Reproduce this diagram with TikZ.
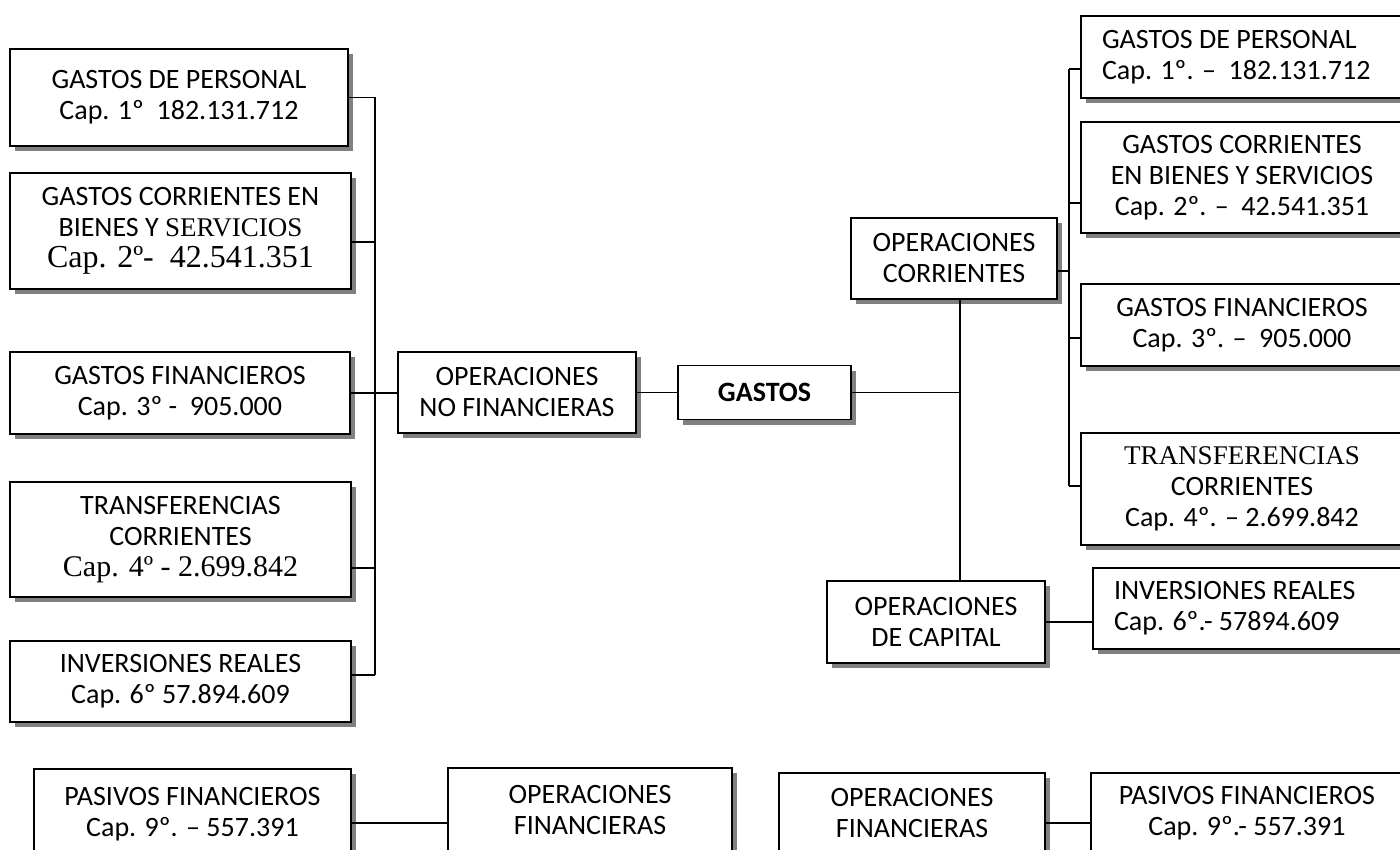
\documentclass[tikz,border=0pt]{standalone}
\usepackage{fontspec}
\setmainfont{Carlito}
\newfontfamily\tms{Liberation Serif}
\usetikzlibrary{shadows}

\begin{document}
\begin{tikzpicture}[x=1pt, y=-1pt,
    box/.style={draw, line width=1.8pt, fill=white, inner sep=0pt, align=center,
      font=\fontsize{28}{31}\selectfont,
      drop shadow={shadow xshift=5pt, shadow yshift=-5pt, fill=black!50, opacity=1}},
    sz/.style 2 args={minimum width=#1pt, minimum height=#2pt},
    lbox/.style={text width=#1pt, inner xsep=21pt, align=flush left},
    wire/.style={line width=1.3pt}]
    \useasboundingbox (0,0) rectangle (1400,850);
    \clip (0,0) rectangle (1400,850);

    % 左の箱
    \node[box, sz={338}{97}] (gp1) at (179,97.5) {GASTOS DE PERSONAL\\Cap. 1º\ \ 182.131.712};
    \node[box, sz={341}{116}] (gc1) at (180.5,231) {GASTOS CORRIENTES EN\\BIENES Y {\tms\fontsize{27}{31}\selectfont SERVICIOS}\\{\tms\fontsize{32}{35}\selectfont Cap. 2º-\ \ 42.541.351}};
    \node[box, sz={340}{82}] (gf1) at (180,393) {GASTOS FINANCIEROS\\Cap. 3º -\ \ 905.000};
    \node[box, sz={341}{115}] (tc1) at (180.5,539.5) {TRANSFERENCIAS\\CORRIENTES\\{\tms\fontsize{30}{33}\selectfont Cap. 4º - 2.699.842}};
    \node[box, sz={341}{81}] (ir1) at (180.5,681.5) {INVERSIONES REALES\\Cap. 6º 57.894.609};

    % 中央の箱
    \node[box, sz={238}{81}] (onf) at (517,392.5) {OPERACIONES\\NO FINANCIERAS};
    \node[box, sz={173}{54}, font=\fontsize{28}{31}\selectfont\bfseries] (gas) at (764.5,392.5) {GASTOS};
    \node[box, sz={206}{81}] (oc) at (954,258.5) {OPERACIONES\\CORRIENTES};
    \node[box, sz={218}{82}] (ocap) at (936,622) {OPERACIONES\\DE CAPITAL};

    % 右の箱
    \node[box, lbox=300, minimum height=82pt] (gp2) at (1252,57) {GASTOS DE PERSONAL\\Cap. 1º. –\ \ 182.131.712};
    \node[box, sz={322}{111}] (gc2) at (1242,177.5) {GASTOS CORRIENTES\\EN BIENES Y SERVICIOS\\Cap. 2º. –\ \ 42.541.351};
    \node[box, sz={322}{82}] (gf2) at (1242,325) {GASTOS FINANCIEROS\\Cap. 3º. –\ \ 905.000};
    \node[box, sz={322}{112}] (tc2) at (1242,489) {{\tms\fontsize{27}{31}\selectfont TRANSFERENCIAS}\\CORRIENTES\\Cap. 4º. – 2.699.842};
    \node[box, lbox=300, minimum height=81pt] (ir2) at (1264,608.5) {INVERSIONES REALES\\Cap. 6º.- 57894.609};

    % 下の箱
    \node[box, sz={317}{90}] (pf1) at (192.5,814) {PASIVOS FINANCIEROS\\Cap. 9º. – 557.391};
    \node[box, sz={284}{84}] (of1) at (590,810) {OPERACIONES\\FINANCIERAS};
    \node[box, sz={266}{80}] (of2) at (912,813) {OPERACIONES\\FINANCIERAS};
    \node[box, sz={312}{80}] (pf2) at (1247,813) {PASIVOS FINANCIEROS\\Cap. 9º.- 557.391};

    % 線を引く
    \coordinate (l1) at (375,97);
    \coordinate (l2) at (375,242);
    \coordinate (l4) at (375,568);
    \coordinate (l5) at (375,675);
    \draw[wire] (l1) -- (l5);
    \draw[wire] (gp1.east) -- (gp1.east -| l1);
    \draw[wire] (l2) -- (l2 -| gc1.east);
    \draw[wire] (gf1.east) -- (gf1.east -| onf.west);
    \draw[wire] (l4) -- (l4 -| tc1.east);
    \draw[wire] (l5) -- (l5 -| ir1.east);
    \draw[wire] (onf.east) -- (gas.west);

    \coordinate (rj) at (960,392.5);
    \draw[wire] (gas.east) -- (rj);
    \draw[wire] (rj |- oc.south) -- (rj |- ocap.north);

    \coordinate (r1) at (1069,69);
    \coordinate (r2) at (1069,203);
    \coordinate (r0) at (1069,271);
    \coordinate (r3) at (1069,338);
    \coordinate (r4) at (1069,486);
    \draw[wire] (r1) -- (r4);
    \draw[wire] (r1) -- (r1 -| gp2.west);
    \draw[wire] (r2) -- (r2 -| gc2.west);
    \draw[wire] (r0) -- (r0 -| oc.east);
    \draw[wire] (r3) -- (r3 -| gf2.west);
    \draw[wire] (r4) -- (r4 -| tc2.west);
    \draw[wire] (ocap.east) -- (ocap.east -| ir2.west);

    \coordinate (b1) at (400,823);
    \coordinate (b2) at (1070,823);
    \draw[wire] (b1 -| pf1.east) -- (b1 -| of1.west);
    \draw[wire] (b2 -| of2.east) -- (b2 -| pf2.west);

\end{tikzpicture}
\end{document}
